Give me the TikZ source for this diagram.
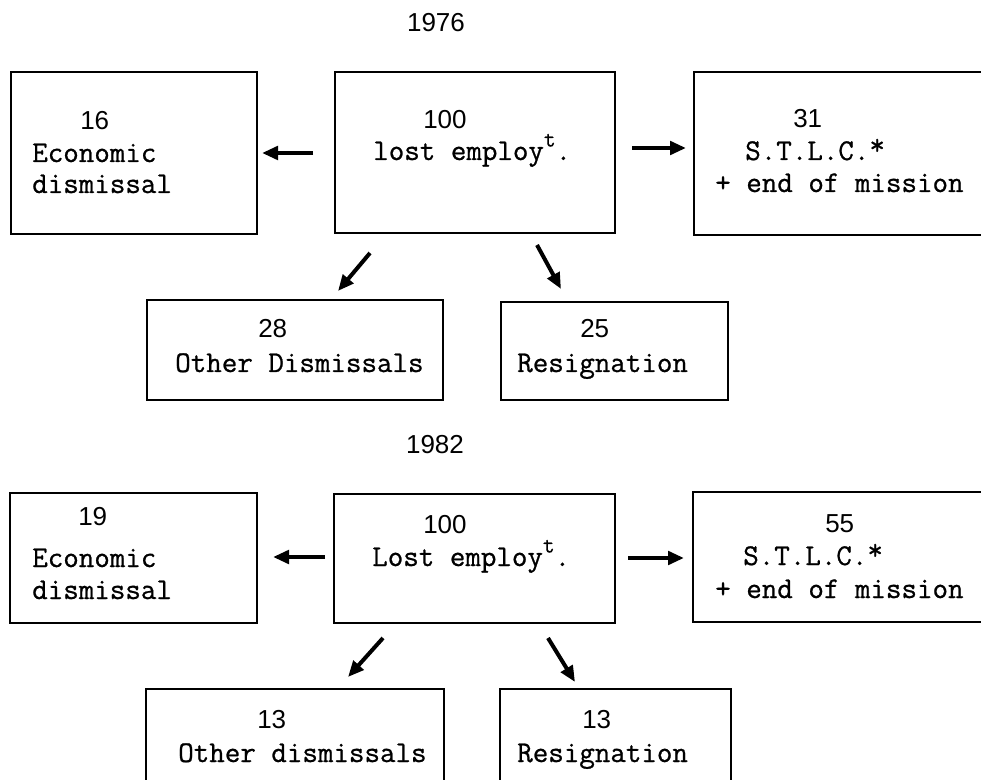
\documentclass[tikz,border=0pt]{standalone}
\usepackage{fontspec}
\usetikzlibrary{fit,arrows.meta}
\newfontfamily\tyfont{Latin Modern Mono}[FakeBold=0.8]
\newfontfamily\digfont{Liberation Sans}
\newcommand\mysupt{\raisebox{0.45em}{\fontsize{17}{17}\selectfont t}}
\newcommand\myast{\raisebox{0.18em}{*}}
\begin{document}
\begin{tikzpicture}[x=0.75pt,y=-0.75pt]
\tikzset{
 boxst/.style={draw, line width=1.3pt, inner sep=0pt},
 num/.style={font=\digfont\fontsize{19.5}{19.5}\selectfont, anchor=base west, inner sep=0pt},
 txt/.style={font=\tyfont\fontsize{22.6}{22.6}\selectfont, anchor=base west, inner sep=0pt},
 arr/.style={line width=3pt, -{Triangle[length=12pt,width=10pt]}},
}
\useasboundingbox[fill=white] (0,0) rectangle (981,780);

% ---------- 1976 ----------
\node[num, anchor=base] (y1) at (436,32) {1976};

\node[boxst, fit={(11,72) (257,234)}] (eco1) {};
\node[boxst, fit={(335,72) (615,233)}] (lost1) {};
\node[boxst, fit={(694,72) (1010,235)}] (stlc1) {};
\node[boxst, fit={(147,300) (443,400)}] (oth1) {};
\node[boxst, fit={(501,302) (728,400)}] (res1) {};

\node[num] (eco1n) at (80,130) {16};
\node[txt] (eco1a) at (32,162) {Economic};
\node[txt] (eco1b) at (32,193) {dismissal};

\node[num] (lost1n) at (423,129) {100};
\node[txt] (lost1a) at (373,160) {lost employ\mysupt.};

\node[num] (stlc1n) at (793,128) {31};
\node[txt] (stlc1a) at (745,160) {S.T.L.C.\myast};
\node[txt] (stlc1b) at (715,192) {+ end of mission};

\node[num] (oth1n) at (258,338) {28};
\node[txt] (oth1a) at (175,372) {Other Dismissals};

\node[num] (res1n) at (580,338) {25};
\node[txt] (res1a) at (517,372) {Resignation};

\coordinate (a1s) at (313,153); \coordinate (a1e) at (262,153);
\coordinate (a2s) at (632,148); \coordinate (a2e) at (686,148);
\coordinate (a3s) at (370,253); \coordinate (a3e) at (338,291);
\coordinate (a4s) at (537,245); \coordinate (a4e) at (561,289);
\draw[arr] (a1s) -- (a1e);
\draw[arr] (a2s) -- (a2e);
\draw[arr] (a3s) -- (a3e);
\draw[arr] (a4s) -- (a4e);

% ---------- 1982 ----------
\node[num, anchor=base] (y2) at (435,453) {1982};

\node[boxst, fit={(10,493) (257,623)}] (eco2) {};
\node[boxst, fit={(334,494) (615,623)}] (lost2) {};
\node[boxst, fit={(693,492) (1010,622)}] (stlc2) {};
\node[boxst, fit={(146,689) (444,800)}] (oth2) {};
\node[boxst, fit={(500,689) (731,800)}] (res2) {};

\node[num] (eco2n) at (78,525) {19};
\node[txt] (eco2a) at (32,567) {Economic};
\node[txt] (eco2b) at (32,599) {dismissal};

\node[num] (lost2n) at (423,533) {100};
\node[txt] (lost2a) at (372,566) {Lost employ\mysupt.};

\node[num] (stlc2n) at (825,532) {55};
\node[txt] (stlc2a) at (743,565) {S.T.L.C.\myast};
\node[txt] (stlc2b) at (715,598) {+ end of mission};

\node[num] (oth2n) at (257,728) {13};
\node[txt] (oth2a) at (178,762) {Other dismissals};

\node[num] (res2n) at (582,728) {13};
\node[txt] (res2a) at (517,762) {Resignation};

\coordinate (b1s) at (325,557); \coordinate (b1e) at (273,557);
\coordinate (b2s) at (628,558); \coordinate (b2e) at (684,558);
\coordinate (b3s) at (383,638); \coordinate (b3e) at (348,677);
\coordinate (b4s) at (548,638); \coordinate (b4e) at (575,682);
\draw[arr] (b1s) -- (b1e);
\draw[arr] (b2s) -- (b2e);
\draw[arr] (b3s) -- (b3e);
\draw[arr] (b4s) -- (b4e);
\end{tikzpicture}
\end{document}
